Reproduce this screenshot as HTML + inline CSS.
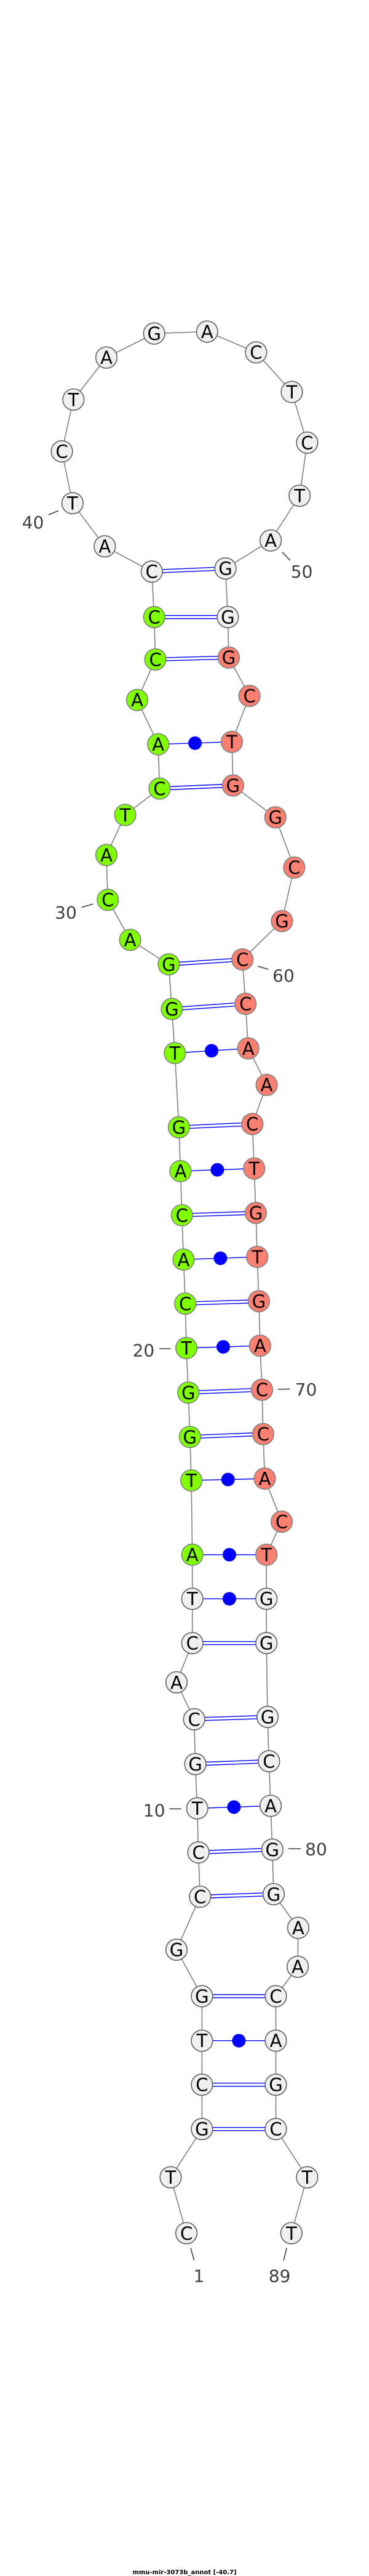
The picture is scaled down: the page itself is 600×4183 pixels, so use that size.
<!DOCTYPE html>
<html><head><meta charset="utf-8"><style>
html,body{margin:0;padding:0;background:#fff;}
svg{display:block;}
.n{stroke-width:1.6;}
.w{fill:#f0f0f0;stroke:#606060;}
.g{fill:#7fff00;stroke:#808080;}
.s{fill:#fa8072;stroke:#808080;}
.t{font-family:"DejaVu Sans","Liberation Sans",sans-serif;font-size:29px;text-anchor:middle;fill:#000;}
.l{font-family:"DejaVu Sans","Liberation Sans",sans-serif;font-size:28px;text-anchor:middle;fill:#404040;}
.p{stroke:#0000ff;stroke-width:1.4;}
.k{stroke:#404040;stroke-width:1.6;}
</style></head><body>
<svg width="600" height="4183" viewBox="0 0 600 4183" xmlns="http://www.w3.org/2000/svg">
<polyline fill="none" stroke="#808080" stroke-width="1.6" points="303.1,3626.3 277.5,3535.6 328.4,3457.2 328.4,3385.2 328.4,3313.7 328.4,3241.5 287,3166 325.3,3080 322.6,3008 320.7,2936.5 317.6,2864.6 315.7,2791.8 287,2731.8 312.7,2668.1 312.7,2596.2 312.7,2524.6 311.1,2404 308.8,2333.3 306.2,2261.3 303.1,2189 301.2,2116.8 298.5,2045.3 295.8,1973.3 293.5,1901.7 290.9,1830.6 284.3,1710 279.4,1638.5 274.4,1566 211.6,1526.2 175.3,1461.2 173,1388.4 203.6,1323.4 259.5,1280.5 257.2,1208.6 223.1,1136.6 252.6,1070.8 250.7,1002 246.8,928.1 170.3,887.2 117.9,817.1 100.6,733 119.4,648.8 173,580.6 250.7,541.6 336.8,538.5 416.4,572.2 474.5,636.5 499.4,718.8 487.2,804.9 440.1,877.6 366.6,923.1 370.4,1002 372,1067.7 405.7,1130 377,1204.7 378.9,1275.5 447.8,1327.2 478.4,1408.7 458.5,1495.6 394.2,1558 399.2,1630 403.7,1702.4 433.6,1761.7 410.3,1825.2 413.3,1897.5 416,1969.5 418.3,2041 421,2113 422.9,2185.2 426,2256.7 427.9,2328.7 430.5,2401 458.1,2471 433.2,2524.6 433.2,2596.2 433.2,2668.1 435.1,2788 437.4,2860 440.1,2932.3 442.8,3003.5 445,3075.8 484.9,3130.5 484.1,3193.7 448.5,3241.5 448.5,3313.7 448.5,3385.2 448.5,3457.2 499.4,3535.6 473.8,3626.3"/>
<g class="p">
<!-- double pairs -->
<line x1="328.4" y1="3454.7" x2="448.5" y2="3454.7"/><line x1="328.4" y1="3459.7" x2="448.5" y2="3459.7"/>
<line x1="328.4" y1="3382.7" x2="448.5" y2="3382.7"/><line x1="328.4" y1="3387.7" x2="448.5" y2="3387.7"/>
<line x1="328.4" y1="3239" x2="448.5" y2="3239"/><line x1="328.4" y1="3244" x2="448.5" y2="3244"/>
<line x1="325.3" y1="3077.5" x2="445" y2="3073.3"/><line x1="325.3" y1="3082.5" x2="445" y2="3078.3"/>
<line x1="322.6" y1="3005.5" x2="442.8" y2="3001"/><line x1="322.6" y1="3010.5" x2="442.8" y2="3006"/>
<line x1="317.6" y1="2862.1" x2="437.4" y2="2857.5"/><line x1="317.6" y1="2867.1" x2="437.4" y2="2862.5"/>
<line x1="315.7" y1="2789.3" x2="435.1" y2="2785.5"/><line x1="315.7" y1="2794.3" x2="435.1" y2="2790.5"/>
<line x1="312.7" y1="2665.6" x2="433.2" y2="2665.6"/><line x1="312.7" y1="2670.6" x2="433.2" y2="2670.6"/>
<line x1="308.8" y1="2330.8" x2="427.9" y2="2326.2"/><line x1="308.8" y1="2335.8" x2="427.9" y2="2331.2"/>
<line x1="306.2" y1="2258.8" x2="426" y2="2254.2"/><line x1="306.2" y1="2263.8" x2="426" y2="2259.2"/>
<line x1="301.2" y1="2114.3" x2="421" y2="2110.5"/><line x1="301.2" y1="2119.3" x2="421" y2="2115.5"/>
<line x1="295.8" y1="1970.8" x2="416" y2="1967"/><line x1="295.8" y1="1975.8" x2="416" y2="1972"/>
<line x1="290.9" y1="1828.1" x2="410.3" y2="1822.7"/><line x1="290.9" y1="1833.1" x2="410.3" y2="1827.7"/>
<line x1="279.4" y1="1636" x2="399.2" y2="1627.5"/><line x1="279.4" y1="1641" x2="399.2" y2="1632.5"/>
<line x1="274.4" y1="1563.5" x2="394.2" y2="1555.5"/><line x1="274.4" y1="1568.5" x2="394.2" y2="1560.5"/>
<line x1="259.5" y1="1278" x2="378.9" y2="1273"/><line x1="259.5" y1="1283" x2="378.9" y2="1278"/>
<line x1="252.6" y1="1068.3" x2="372" y2="1065.2"/><line x1="252.6" y1="1073.3" x2="372" y2="1070.2"/>
<line x1="250.7" y1="999.5" x2="370.4" y2="999.5"/><line x1="250.7" y1="1004.5" x2="370.4" y2="1004.5"/>
<line x1="246.8" y1="925.6" x2="366.6" y2="920.6"/><line x1="246.8" y1="930.6" x2="366.6" y2="925.6"/>
<!-- single pairs -->
<line x1="328.4" y1="3313.7" x2="448.5" y2="3313.7"/>
<line x1="320.7" y1="2936.5" x2="440.1" y2="2932.3"/>
<line x1="312.7" y1="2596.2" x2="433.2" y2="2596.2"/>
<line x1="312.7" y1="2524.6" x2="433.2" y2="2524.6"/>
<line x1="311.1" y1="2404" x2="430.5" y2="2401"/>
<line x1="303.1" y1="2189" x2="422.9" y2="2185.2"/>
<line x1="298.5" y1="2045.3" x2="418.3" y2="2041"/>
<line x1="293.5" y1="1901.7" x2="413.3" y2="1897.5"/>
<line x1="284.3" y1="1710" x2="403.7" y2="1702.4"/>
<line x1="257.2" y1="1208.6" x2="377" y2="1204.7"/>
</g>
<g fill="#0000ff">
<circle cx="388.4" cy="3313.7" r="11"/>
<circle cx="380.4" cy="2934.4" r="11"/>
<circle cx="373" cy="2596.2" r="11"/>
<circle cx="373" cy="2524.6" r="11"/>
<circle cx="370.8" cy="2402.5" r="11"/>
<circle cx="363" cy="2187.1" r="11"/>
<circle cx="358.4" cy="2043.2" r="11"/>
<circle cx="353.4" cy="1899.6" r="11"/>
<circle cx="344" cy="1706.2" r="11"/>
<circle cx="317.1" cy="1206.7" r="11"/>
</g>
<g class="n">
<circle class="w" cx="303.1" cy="3626.3" r="17.3"/><circle class="w" cx="277.5" cy="3535.6" r="17.3"/><circle class="w" cx="328.4" cy="3457.2" r="17.3"/><circle class="w" cx="328.4" cy="3385.2" r="17.3"/><circle class="w" cx="328.4" cy="3313.7" r="17.3"/><circle class="w" cx="328.4" cy="3241.5" r="17.3"/><circle class="w" cx="287" cy="3166" r="17.3"/><circle class="w" cx="325.3" cy="3080" r="17.3"/><circle class="w" cx="322.6" cy="3008" r="17.3"/><circle class="w" cx="320.7" cy="2936.5" r="17.3"/><circle class="w" cx="317.6" cy="2864.6" r="17.3"/><circle class="w" cx="315.7" cy="2791.8" r="17.3"/><circle class="w" cx="287" cy="2731.8" r="17.3"/><circle class="w" cx="312.7" cy="2668.1" r="17.3"/><circle class="w" cx="312.7" cy="2596.2" r="17.3"/>
<circle class="g" cx="312.7" cy="2524.6" r="17.3"/><circle class="g" cx="311.1" cy="2404" r="17.3"/><circle class="g" cx="308.8" cy="2333.3" r="17.3"/><circle class="g" cx="306.2" cy="2261.3" r="17.3"/><circle class="g" cx="303.1" cy="2189" r="17.3"/><circle class="g" cx="301.2" cy="2116.8" r="17.3"/><circle class="g" cx="298.5" cy="2045.3" r="17.3"/><circle class="g" cx="295.8" cy="1973.3" r="17.3"/><circle class="g" cx="293.5" cy="1901.7" r="17.3"/><circle class="g" cx="290.9" cy="1830.6" r="17.3"/><circle class="g" cx="284.3" cy="1710" r="17.3"/><circle class="g" cx="279.4" cy="1638.5" r="17.3"/><circle class="g" cx="274.4" cy="1566" r="17.3"/><circle class="g" cx="211.6" cy="1526.2" r="17.3"/><circle class="g" cx="175.3" cy="1461.2" r="17.3"/><circle class="g" cx="173" cy="1388.4" r="17.3"/><circle class="g" cx="203.6" cy="1323.4" r="17.3"/><circle class="g" cx="259.5" cy="1280.5" r="17.3"/><circle class="g" cx="257.2" cy="1208.6" r="17.3"/><circle class="g" cx="223.1" cy="1136.6" r="17.3"/><circle class="g" cx="252.6" cy="1070.8" r="17.3"/><circle class="g" cx="250.7" cy="1002" r="17.3"/>
<circle class="w" cx="246.8" cy="928.1" r="17.3"/><circle class="w" cx="170.3" cy="887.2" r="17.3"/><circle class="w" cx="117.9" cy="817.1" r="17.3"/><circle class="w" cx="100.6" cy="733" r="17.3"/><circle class="w" cx="119.4" cy="648.8" r="17.3"/><circle class="w" cx="173" cy="580.6" r="17.3"/><circle class="w" cx="250.7" cy="541.6" r="17.3"/><circle class="w" cx="336.8" cy="538.5" r="17.3"/><circle class="w" cx="416.4" cy="572.2" r="17.3"/><circle class="w" cx="474.5" cy="636.5" r="17.3"/><circle class="w" cx="499.4" cy="718.8" r="17.3"/><circle class="w" cx="487.2" cy="804.9" r="17.3"/><circle class="w" cx="440.1" cy="877.6" r="17.3"/><circle class="w" cx="366.6" cy="923.1" r="17.3"/><circle class="w" cx="370.4" cy="1002" r="17.3"/>
<circle class="s" cx="372" cy="1067.7" r="17.3"/><circle class="s" cx="405.7" cy="1130" r="17.3"/><circle class="s" cx="377" cy="1204.7" r="17.3"/><circle class="s" cx="378.9" cy="1275.5" r="17.3"/><circle class="s" cx="447.8" cy="1327.2" r="17.3"/><circle class="s" cx="478.4" cy="1408.7" r="17.3"/><circle class="s" cx="458.5" cy="1495.6" r="17.3"/><circle class="s" cx="394.2" cy="1558" r="17.3"/><circle class="s" cx="399.2" cy="1630" r="17.3"/><circle class="s" cx="403.7" cy="1702.4" r="17.3"/><circle class="s" cx="433.6" cy="1761.7" r="17.3"/><circle class="s" cx="410.3" cy="1825.2" r="17.3"/><circle class="s" cx="413.3" cy="1897.5" r="17.3"/><circle class="s" cx="416" cy="1969.5" r="17.3"/><circle class="s" cx="418.3" cy="2041" r="17.3"/><circle class="s" cx="421" cy="2113" r="17.3"/><circle class="s" cx="422.9" cy="2185.2" r="17.3"/><circle class="s" cx="426" cy="2256.7" r="17.3"/><circle class="s" cx="427.9" cy="2328.7" r="17.3"/><circle class="s" cx="430.5" cy="2401" r="17.3"/><circle class="s" cx="458.1" cy="2471" r="17.3"/><circle class="s" cx="433.2" cy="2524.6" r="17.3"/>
<circle class="w" cx="433.2" cy="2596.2" r="17.3"/><circle class="w" cx="433.2" cy="2668.1" r="17.3"/><circle class="w" cx="435.1" cy="2788" r="17.3"/><circle class="w" cx="437.4" cy="2860" r="17.3"/><circle class="w" cx="440.1" cy="2932.3" r="17.3"/><circle class="w" cx="442.8" cy="3003.5" r="17.3"/><circle class="w" cx="445" cy="3075.8" r="17.3"/><circle class="w" cx="484.9" cy="3130.5" r="17.3"/><circle class="w" cx="484.1" cy="3193.7" r="17.3"/><circle class="w" cx="448.5" cy="3241.5" r="17.3"/><circle class="w" cx="448.5" cy="3313.7" r="17.3"/><circle class="w" cx="448.5" cy="3385.2" r="17.3"/><circle class="w" cx="448.5" cy="3457.2" r="17.3"/><circle class="w" cx="499.4" cy="3535.6" r="17.3"/><circle class="w" cx="473.8" cy="3626.3" r="17.3"/>
</g>
<g class="t">
<text x="303.1" y="3636.8">C</text><text x="277.5" y="3546.1">T</text><text x="328.4" y="3467.7">G</text><text x="328.4" y="3395.7">C</text><text x="328.4" y="3324.2">T</text><text x="328.4" y="3252">G</text><text x="287" y="3176.5">G</text><text x="325.3" y="3090.5">C</text><text x="322.6" y="3018.5">C</text><text x="320.7" y="2947">T</text><text x="317.6" y="2875.1">G</text><text x="315.7" y="2802.3">C</text><text x="287" y="2742.3">A</text><text x="312.7" y="2678.6">C</text><text x="312.7" y="2606.7">T</text>
<text x="312.7" y="2535.1">A</text><text x="311.1" y="2414.5">T</text><text x="308.8" y="2343.8">G</text><text x="306.2" y="2271.8">G</text><text x="303.1" y="2199.5">T</text><text x="301.2" y="2127.3">C</text><text x="298.5" y="2055.8">A</text><text x="295.8" y="1983.8">C</text><text x="293.5" y="1912.2">A</text><text x="290.9" y="1841.1">G</text><text x="284.3" y="1720.5">T</text><text x="279.4" y="1649">G</text><text x="274.4" y="1576.5">G</text><text x="211.6" y="1536.7">A</text><text x="175.3" y="1471.7">C</text><text x="173" y="1398.9">A</text><text x="203.6" y="1333.9">T</text><text x="259.5" y="1291">C</text><text x="257.2" y="1219.1">A</text><text x="223.1" y="1147.1">A</text><text x="252.6" y="1081.3">C</text><text x="250.7" y="1012.5">C</text>
<text x="246.8" y="938.6">C</text><text x="170.3" y="897.7">A</text><text x="117.9" y="827.6">T</text><text x="100.6" y="743.5">C</text><text x="119.4" y="659.3">T</text><text x="173" y="591.1">A</text><text x="250.7" y="552.1">G</text><text x="336.8" y="549">A</text><text x="416.4" y="582.7">C</text><text x="474.5" y="647">T</text><text x="499.4" y="729.3">C</text><text x="487.2" y="815.4">T</text><text x="440.1" y="888.1">A</text><text x="366.6" y="933.6">G</text><text x="370.4" y="1012.5">G</text>
<text x="372" y="1078.2">G</text><text x="405.7" y="1140.5">C</text><text x="377" y="1215.2">T</text><text x="378.9" y="1286">G</text><text x="447.8" y="1337.7">G</text><text x="478.4" y="1419.2">C</text><text x="458.5" y="1506.1">G</text><text x="394.2" y="1568.5">C</text><text x="399.2" y="1640.5">C</text><text x="403.7" y="1712.9">A</text><text x="433.6" y="1772.2">A</text><text x="410.3" y="1835.7">C</text><text x="413.3" y="1908">T</text><text x="416" y="1980">G</text><text x="418.3" y="2051.5">T</text><text x="421" y="2123.5">G</text><text x="422.9" y="2195.7">A</text><text x="426" y="2267.2">C</text><text x="427.9" y="2339.2">C</text><text x="430.5" y="2411.5">A</text><text x="458.1" y="2481.5">C</text><text x="433.2" y="2535.1">T</text>
<text x="433.2" y="2606.7">G</text><text x="433.2" y="2678.6">G</text><text x="435.1" y="2798.5">G</text><text x="437.4" y="2870.5">C</text><text x="440.1" y="2942.8">A</text><text x="442.8" y="3014">G</text><text x="445" y="3086.3">G</text><text x="484.9" y="3141">A</text><text x="484.1" y="3204.2">A</text><text x="448.5" y="3252">C</text><text x="448.5" y="3324.2">A</text><text x="448.5" y="3395.7">G</text><text x="448.5" y="3467.7">C</text><text x="499.4" y="3546.1">T</text><text x="473.8" y="3636.8">T</text>
</g>
<g class="k">
<line x1="78.5" y1="836" x2="95" y2="829.4"/>
<line x1="459" y1="896.7" x2="471.9" y2="910"/>
<line x1="132.8" y1="1473.4" x2="151.2" y2="1468"/>
<line x1="419" y1="1569" x2="436.3" y2="1574"/>
<line x1="259" y1="2190" x2="277.5" y2="2190"/>
<line x1="451.6" y1="2256" x2="471.5" y2="2255.6"/>
<line x1="275.5" y1="2937.3" x2="294.7" y2="2937.3"/>
<line x1="468.8" y1="3002" x2="489" y2="3002"/>
<line x1="310" y1="3650.5" x2="315.7" y2="3670.4"/>
<line x1="466.1" y1="3650.5" x2="461.2" y2="3670.4"/>
</g>
<g class="l">
<text x="53.6" y="858">40</text>
<text x="490.6" y="938">50</text>
<text x="107" y="1491.5">30</text>
<text x="461" y="1594">60</text>
<text x="233.4" y="2202.5">20</text>
<text x="497.5" y="2266">70</text>
<text x="250.7" y="2949.5">10</text>
<text x="514" y="3012.5">80</text>
<text x="323.4" y="3705.5">1</text>
<text x="454.6" y="3705.5">89</text>
</g>
<text x="300" y="4180" font-family="'DejaVu Sans','Liberation Sans',sans-serif" font-size="10" font-weight="bold" text-anchor="middle" fill="#000">mmu-mir-3073b_annot [-40.7]</text>
</svg>
</body></html>
